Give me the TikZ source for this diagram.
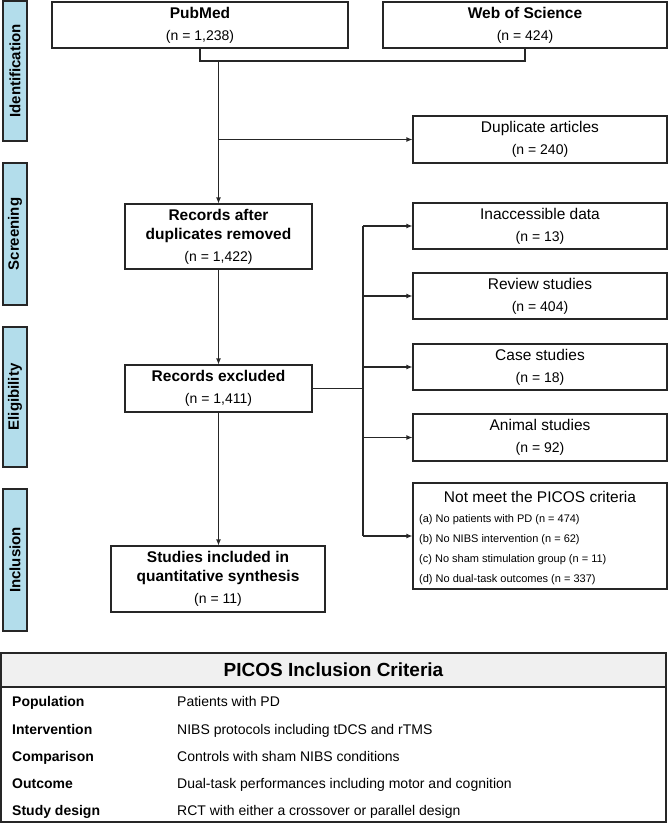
\documentclass[tikz,border=0pt]{standalone}
\usepackage{fontspec}
\setmainfont{Liberation Sans}
\usepackage{xcolor}
\usepackage{tikz}
\usetikzlibrary{
  positioning,
  calc,
  arrows.meta
}
\definecolor{stageblue}{HTML}{B3DDEB}
\definecolor{linegray}{HTML}{262626}
\definecolor{headgray}{HTML}{F0F0F0}

\begin{document}
\begin{tikzpicture}[x=1pt,y=-1pt,
  box/.style={draw=linegray, line width=1.1pt, fill=white, align=center,
    inner sep=0pt, font=\fontsize{15.5}{19}\selectfont},
  stage/.style={draw=linegray, line width=1.1pt, fill=stageblue, rotate=90,
    minimum height=24pt, inner sep=0pt, font=\bfseries\fontsize{15}{18}\selectfont},
  conn/.style={draw=linegray, line width=1.1pt},
  arr/.style={conn, -{Latex[length=6pt,width=5pt]}},
  item/.style={anchor=base west, inner sep=0pt, font=\fontsize{11}{13}\selectfont},
  rowhead/.style={anchor=base west, inner sep=0pt, font=\bfseries\fontsize{14}{16}\selectfont},
  rowtext/.style={anchor=base west, inner sep=0pt, font=\fontsize{14}{16}\selectfont}
  ]
  \useasboundingbox (0,0) rectangle (669,823);

  % stages
  \node[stage, minimum width=140pt] (ident) at (15,71) {Identification};
  \node[stage, minimum width=142pt] (screen) at (15,234) {Screening};
  \node[stage, minimum width=140pt] (elig) at (15,397) {Eligibility};
  \node[stage, minimum width=142pt] (incl) at (15,560) {Inclusion};

  % main column
  \node[box, minimum width=296pt, minimum height=46pt] (pubmed) at (200,25)
    {\textbf{PubMed}\\[3pt]{\fontsize{14}{17}\selectfont(n = 1,238)}};
  \node[box, minimum width=284pt, minimum height=46pt] (wos) at (525,25)
    {\textbf{Web of Science}\\[3pt]{\fontsize{14}{17}\selectfont(n = 424)}};
  \node[box, minimum width=187pt, minimum height=65pt] (recafter) at (218.5,236.5)
    {\textbf{Records after}\\\textbf{duplicates removed}\\[3pt]{\fontsize{14}{17}\selectfont(n = 1,422)}};
  \node[box, minimum width=187pt, minimum height=47pt] (recexcl) at (218.5,388.5)
    {\textbf{Records excluded}\\[3pt]{\fontsize{14}{17}\selectfont(n = 1,411)}};
  \node[box, minimum width=214pt, minimum height=66pt] (studies) at (218,579)
    {\textbf{Studies included in}\\\textbf{quantitative synthesis}\\[3pt]{\fontsize{14}{17}\selectfont(n = 11)}};

  % excluded column
  \node[box, minimum width=254pt, minimum height=47pt] (dupl) at (540,139.5)
    {Duplicate articles\\[3pt]{\fontsize{14}{17}\selectfont(n = 240)}};
  \node[box, minimum width=254pt, minimum height=46pt] (inacc) at (540,226)
    {Inaccessible data\\[3pt]{\fontsize{14}{17}\selectfont(n = 13)}};
  \node[box, minimum width=254pt, minimum height=46pt] (review) at (540,296)
    {Review studies\\[3pt]{\fontsize{14}{17}\selectfont(n = 404)}};
  \node[box, minimum width=254pt, minimum height=46pt] (case) at (540,367)
    {Case studies\\[3pt]{\fontsize{14}{17}\selectfont(n = 18)}};
  \node[box, minimum width=254pt, minimum height=47pt] (animal) at (540,437.5)
    {Animal studies\\[3pt]{\fontsize{14}{17}\selectfont(n = 92)}};
  \node[box, minimum width=254pt, minimum height=106pt] (notmeet) at (540,536) {};
  \node[inner sep=0pt, font=\fontsize{15.5}{19}\selectfont] (crithead) at (540,497)
    {Not meet the PICOS criteria};
  \node[item] (crita) at (419,522) {(a) No patients with PD (n = 474)};
  \node[item] (critb) at (419,542) {(b) No NIBS intervention (n = 62)};
  \node[item] (critc) at (419,562) {(c) No sham stimulation group (n = 11)};
  \node[item] (critd) at (419,582) {(d) No dual-task outcomes (n = 337)};

  % connectors
  \coordinate (join) at (218.5,61);
  \coordinate (trunk) at (363,388.5);
  \draw[conn] (pubmed.south) -- (pubmed.south |- join) -| (wos.south);
  \draw[arr] (join) -- (recafter.north);
  \draw[arr] (recafter.north |- dupl.west) -- (dupl.west);
  \draw[arr] (recafter.south) -- (recexcl.north);
  \draw[arr] (recexcl.south) -- (recexcl.south |- studies.north);
  \draw[conn] (recexcl.east) -- (trunk);
  \draw[conn] (trunk |- inacc.west) -- (trunk |- notmeet.west);
  \draw[arr] (trunk |- inacc.west) -- (inacc.west);
  \draw[arr] (trunk |- review.west) -- (review.west);
  \draw[arr] (trunk |- case.west) -- (case.west);
  \draw[arr] (trunk |- animal.west) -- (animal.west);
  \draw[arr] (trunk |- notmeet.west) -- (notmeet.west);

  % PICOS table
  \draw[conn, fill=headgray] (1,653) rectangle (666,687);
  \draw[conn] (1,687) rectangle (666,822);
  \node[inner sep=0pt, font=\bfseries\fontsize{19}{22}\selectfont] (picos) at (333.5,670)
    {PICOS Inclusion Criteria};
  \node[rowhead] (pop) at (12,706) {Population};
  \node[rowtext] (popt) at (177,706) {Patients with PD};
  \node[rowhead] (inter) at (12,734) {Intervention};
  \node[rowtext] (intert) at (177,734) {NIBS protocols including tDCS and rTMS};
  \node[rowhead] (comp) at (12,761) {Comparison};
  \node[rowtext] (compt) at (177,761) {Controls with sham NIBS conditions};
  \node[rowhead] (outc) at (12,788) {Outcome};
  \node[rowtext] (outct) at (177,788) {Dual-task performances including motor and cognition};
  \node[rowhead] (design) at (12,815) {Study design};
  \node[rowtext] (designt) at (177,815) {RCT with either a crossover or parallel design};
\end{tikzpicture}
\end{document}
